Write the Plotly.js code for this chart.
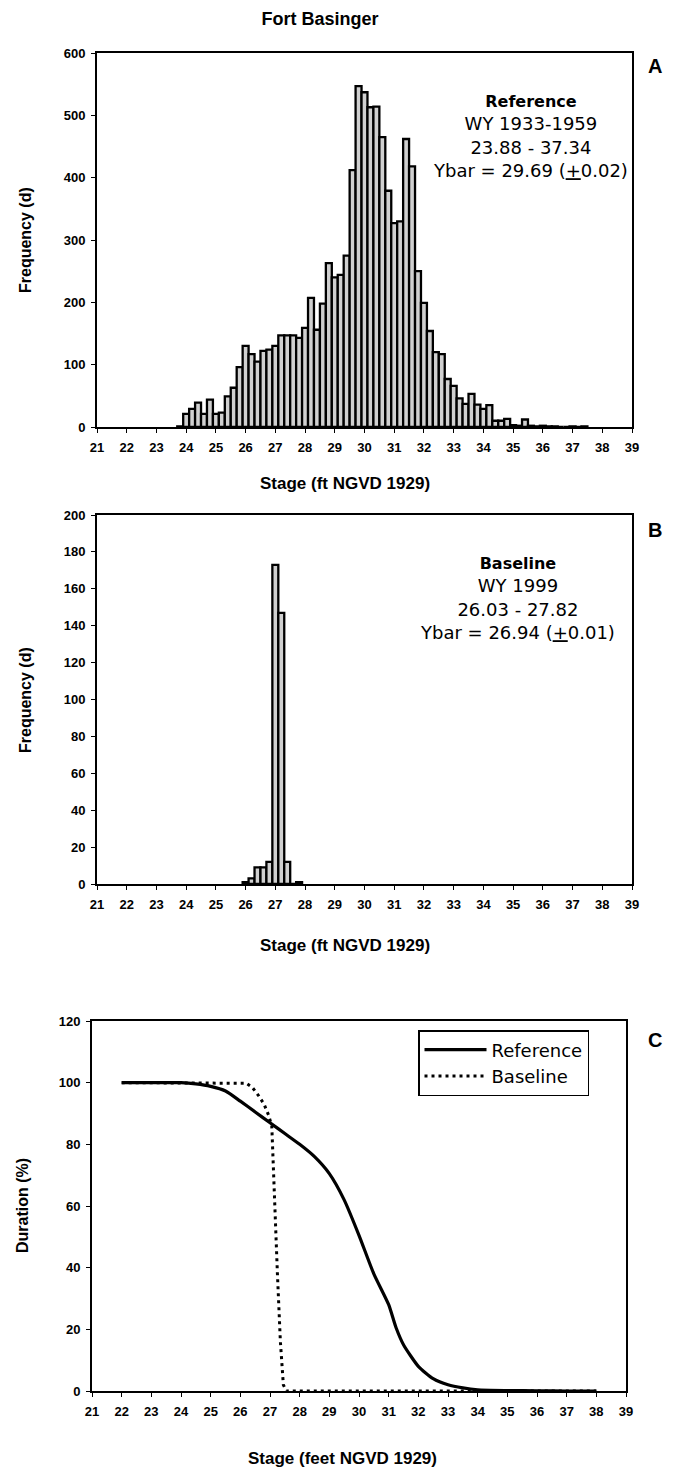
<!DOCTYPE html>
<html><head><meta charset="utf-8">
<script src="https://cdn.plot.ly/plotly-3.0.1.min.js"></script>
<style>html,body{margin:0;padding:0;background:#fff}#chart{width:680px;height:1471px}</style>
</head><body><div id="chart"></div>
<script>
// ---- Panel A: Reference histogram (WY 1933-1959), 0.2 ft bins ----
const stageA = [23.8,24.0,24.2,24.4,24.6,24.8,25.0,25.2,25.4,25.6,25.8,26.0,26.2,26.4,26.6,26.8,27.0,27.2,27.4,27.6,27.8,28.0,28.2,28.4,28.6,28.8,29.0,29.2,29.4,29.6,29.8,30.0,30.2,30.4,30.6,30.8,31.0,31.2,31.4,31.6,31.8,32.0,32.2,32.4,32.6,32.8,33.0,33.2,33.4,33.6,33.8,34.0,34.2,34.4,34.6,34.8,35.0,35.2,35.4,35.6,35.8,36.0,36.2,36.4,36.6,36.8,37.0,37.2,37.4];
const freqA  = [1,21,29,39,21,44,21,23,49,63,96,130,117,105,122,124,130,147,147,147,143,159,207,156,198,263,240,244,275,412,547,537,513,514,465,379,327,330,462,418,250,199,154,120,117,77,66,46,37,53,36,29,35,10,10,13,3,2,12,2,1,2,1,1,0,0,1,0,1];

// ---- Panel B: Baseline histogram (WY 1999) ----
const stageB = [26.0,26.2,26.4,26.6,26.8,27.0,27.2,27.4,27.6,27.8];
const freqB  = [1,3,9,9,12,173,147,12,0,1];

// ---- Panel C: stage-duration curves ----
const stageRef = [22,23,24,24.5,25,25.5,26,26.5,27,27.5,28,28.5,29,29.5,30,30.5,31,31.25,31.5,32,32.5,33,33.5,34,35,36,37,38];
const durRef   = [100,100,100,99.6,98.8,97.3,94,90.5,87,83.5,80,76,70.5,62,50.5,38,28,20.5,15,8,4,2,1,0.4,0.15,0.05,0,0];
const stageBase = [22,23,24,25,26,26.2,26.4,26.6,26.8,26.95,27.06,27.15,27.25,27.35,27.45,27.55,28,30,32,34,36,38];
const durBase   = [100,100,100,100,100,99.8,98.5,96,93,89.5,86,62,38,16,2,0,0,0,0,0,0,0];

const stageTicks = [21,22,23,24,25,26,27,28,29,30,31,32,33,34,35,36,37,38,39];

const W = 680, H = 1471;
const py = p => 1 - p / H;
const px = p => p / W;

const TICKFONT = {family: 'Liberation Sans Narrow, Liberation Sans, Arial, sans-serif', size: 13, weight: 'bold', color: '#000'};
const TITLEFONT = {family: 'Liberation Sans, Arial, sans-serif', size: 17, weight: 'bold', color: '#000'};
const YTITLEFONT = {family: 'Liberation Sans, Arial, sans-serif', size: 16, weight: 'bold', color: '#000'};
const TEXTFONT = {family: 'DejaVu Sans, Liberation Sans, Arial, sans-serif', size: 18, color: '#000'};

const barStyle = {color: '#d0d0d0', line: {color: '#000000', width: 2.3}};

const traces = [
  {type: 'bar', x: stageA, y: freqA, width: 0.2, marker: barStyle, xaxis: 'x', yaxis: 'y', showlegend: false, hoverinfo: 'x+y'},
  {type: 'bar', x: stageB, y: freqB, width: 0.2, marker: barStyle, xaxis: 'x2', yaxis: 'y2', showlegend: false, hoverinfo: 'x+y'},
  {type: 'scatter', mode: 'lines', name: 'Reference', x: stageRef, y: durRef, line: {color: '#000', width: 3.2, shape: 'spline', smoothing: 0.6}, xaxis: 'x3', yaxis: 'y3'},
  {type: 'scatter', mode: 'lines', name: 'Baseline', x: stageBase, y: durBase, line: {color: '#000', width: 3, dash: '3px,4px'}, xaxis: 'x3', yaxis: 'y3'}
];

function xax(dom, anchor) {
  return {domain: dom, anchor: anchor, range: [21, 39], tickmode: 'array', tickvals: stageTicks,
    ticktext: stageTicks.map(String), ticks: 'outside', ticklen: 4, tickwidth: 1, tickcolor: '#000',
    ticklabelstandoff: 3,
    showline: true, linecolor: '#000', linewidth: 2, mirror: true, showgrid: false, zeroline: false,
    tickfont: TICKFONT, fixedrange: true};
}
function yax(dom, anchor, max, dt) {
  return {domain: dom, anchor: anchor, range: [0, max], dtick: dt, tick0: 0, ticks: 'outside', ticklen: 4,
    tickwidth: 1, tickcolor: '#000', ticklabelstandoff: 3, showline: true, linecolor: '#000', linewidth: 2, mirror: true,
    showgrid: false, zeroline: false, tickfont: TICKFONT, fixedrange: true};
}

const ann = [];
function addText(text, x, y, font, angle) {
  ann.push({text: text, xref: 'paper', yref: 'paper', x: px(x), y: py(y), xanchor: 'center', yanchor: 'middle',
    showarrow: false, font: font, textangle: angle || 0, align: 'center'});
}
addText('Frequency (d)', 25, 240, YTITLEFONT, -90);
addText('Frequency (d)', 25, 700, YTITLEFONT, -90);
addText('Duration (%)', 22, 1206, YTITLEFONT, -90);
addText('Stage (ft NGVD 1929)', 345, 484, TITLEFONT);
addText('Stage (ft NGVD 1929)', 345, 945, TITLEFONT);
addText('Stage (feet NGVD 1929)', 342, 1458, TITLEFONT);
addText('<span style="font-size:16px"><b>Reference</b></span><br>WY 1933-1959<br>23.88 - 37.34<br>Ybar = 29.69 (<u>+</u>0.02)', 530, 137, TEXTFONT);
addText('<span style="font-size:16px"><b>Baseline</b></span><br>WY 1999<br>26.03 - 27.82<br>Ybar = 26.94 (<u>+</u>0.01)', 517, 598, TEXTFONT);
const LETTER = {family: 'Liberation Sans, Arial, sans-serif', size: 20, weight: 'bold', color: '#000'};
addText('A', 655, 66, LETTER);
addText('B', 655, 530, LETTER);
addText('C', 655, 1040, LETTER);

const layout = {
  width: W, height: H,
  margin: {l: 0, r: 0, t: 0, b: 0},
  paper_bgcolor: '#fff', plot_bgcolor: '#fff',
  title: {text: 'Fort Basinger', font: {family: 'Liberation Sans, Arial, sans-serif', size: 18, weight: 'bold', color: '#000'},
    x: px(320), xanchor: 'center', y: py(19), yanchor: 'middle', xref: 'paper', yref: 'paper'},
  bargap: 0,
  xaxis: xax([px(97), px(632)], 'y'),
  yaxis: yax([py(427), py(53)], 'x', 600, 100),
  xaxis2: xax([px(97), px(632)], 'y2'),
  yaxis2: yax([py(884), py(515)], 'x2', 200, 20),
  xaxis3: xax([px(92), px(626)], 'y3'),
  yaxis3: yax([py(1391), py(1021)], 'x3', 120, 20),
  showlegend: true,
  legend: {x: px(418), y: py(1030), xanchor: 'left', yanchor: 'top', bgcolor: '#fff', bordercolor: '#000', borderwidth: 1.5,
    font: {family: 'DejaVu Sans, Liberation Sans, Arial, sans-serif', size: 18, color: '#000'}, tracegroupgap: 0, itemwidth: 62},
  annotations: ann
};

Plotly.newPlot('chart', traces, layout, {staticPlot: true, displayModeBar: false});
</script>
</body></html>
